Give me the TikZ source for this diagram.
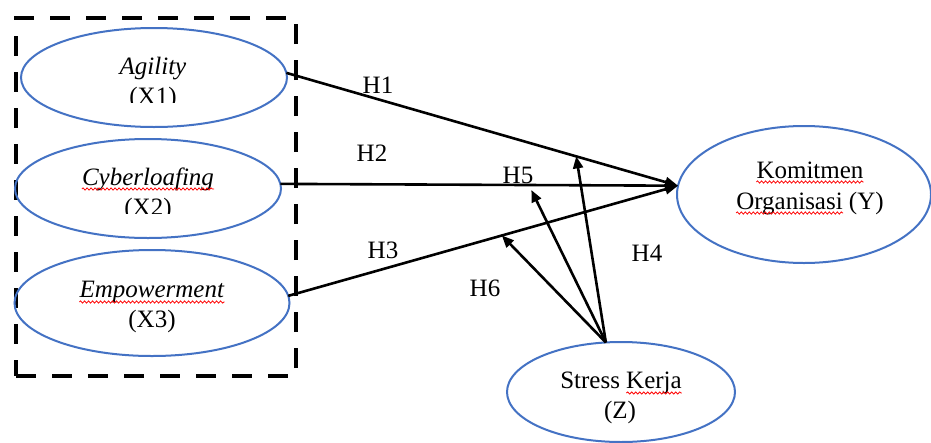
\documentclass[tikz,border=0pt]{standalone}
\usepackage{fontspec}
\setmainfont{Liberation Serif}
\usetikzlibrary{shapes.geometric,arrows.meta,decorations.pathmorphing,calc}
\definecolor{oblue}{HTML}{4472C4}
\begin{document}
\begin{tikzpicture}[x=1pt,y=-1pt,
  every node/.style={font=\fontsize{25}{30}\selectfont},
  var/.style={ellipse,draw=oblue,line width=2pt,inner sep=0pt,outer sep=0pt},
  word/.style={anchor=base,inner sep=0pt},
  hlabel/.style={inner sep=0pt},
  link/.style={line width=2.6pt,-{Triangle[length=13pt,width=10pt]}},
  spell/.style={draw=red,line width=0.8pt,decorate,
    decoration={snake,amplitude=1.1pt,segment length=4pt}},
  groupbox/.style={draw,line width=4pt,dash pattern=on 20pt off 16pt,
    inner sep=0pt,outer sep=0pt}]
\useasboundingbox[fill=white] (0,0) rectangle (931,442);

% group of independent variables
\node[groupbox,minimum width=280pt,minimum height=358pt] (grp) at (156,197) {};

% latent variables
\node[var,minimum width=266pt,minimum height=99pt]  (ag) at (154,77.5) {};
\node[var,minimum width=266pt,minimum height=99pt]  (cy) at (148,188.5) {};
\node[var,minimum width=275pt,minimum height=106pt] (em) at (152,303) {};
\node[var,minimum width=254pt,minimum height=137pt] (km) at (804,194.5) {};
\node[var,minimum width=228pt,minimum height=100pt] (st) at (621,392) {};

% variable names
\node[word] (agA) at (153,74) {\textit{Agility}};
\begin{scope}
  \clip (0,0) rectangle (300,102.5);
  \node[word] (agB) at (153,104) {(X1)};
\end{scope}
\node[word] (cyA) at (148,185) {\textit{Cyberloafing}};
\begin{scope}
  \clip (0,0) rectangle (300,213.5);
  \node[word] (cyB) at (148,215) {(X2)};
\end{scope}
\node[word] (emA) at (152,297) {\textit{Empowerment}};
\node[word] (emB) at (152,327) {(X3)};
\node[word] (kmA) at (810,178) {Komitmen};
\node[word] (kmB) at (810,209) {Organisasi (Y)};
\node[word] (stA) at (621,388) {Stress Kerja};
\node[word] (stB) at (620,418) {(Z)};

% spell-check underlines
\draw[spell] ($(cyA.base west)+(0,4)$) -- ($(cyA.base east)+(0,4)$);
\draw[spell] ($(emA.base west)+(0,5)$) -- ($(emA.base east)+(0,5)$);
\draw[spell] ($(kmA.base west)+(0,4)$) -- ($(kmA.base east)+(0,4)$);
\draw[spell] ($(kmB.base west)+(0,4)$) -- ($(kmB.base west)+(107,4)$);
\draw[spell] ($(stA.base east)+(-55.5,5)$) -- ($(stA.base east)+(0,5)$);

% direct effects
\coordinate (tip) at (km.176);
\draw[link] (ag.2) -- coordinate[pos=0.74] (onH1) (tip);
\draw[link] (cy.2) -- coordinate[pos=0.631] (onH2) (tip);
\draw[link] (em.3) -- coordinate[pos=0.548] (onH3) (tip);

% moderating effects
\coordinate (zsrc) at (st.107);
\draw[link,-{Triangle[length=12pt,width=10pt]}] (zsrc) -- (onH1);
\draw[link,-{Triangle[length=12pt,width=10pt]}] (zsrc) -- ([yshift=-5pt]onH2);
\draw[link,-{Triangle[length=12pt,width=10pt]}] (zsrc) -- (onH3);

% hypothesis labels
\node[hlabel] (h1) at (378,85)  {H1};
\node[hlabel] (h2) at (372,153) {H2};
\node[hlabel] (h3) at (383,250) {H3};
\node[hlabel] (h4) at (647,253) {H4};
\node[hlabel] (h5) at (518,175) {H5};
\node[hlabel] (h6) at (485,288) {H6};
\end{tikzpicture}
\end{document}
